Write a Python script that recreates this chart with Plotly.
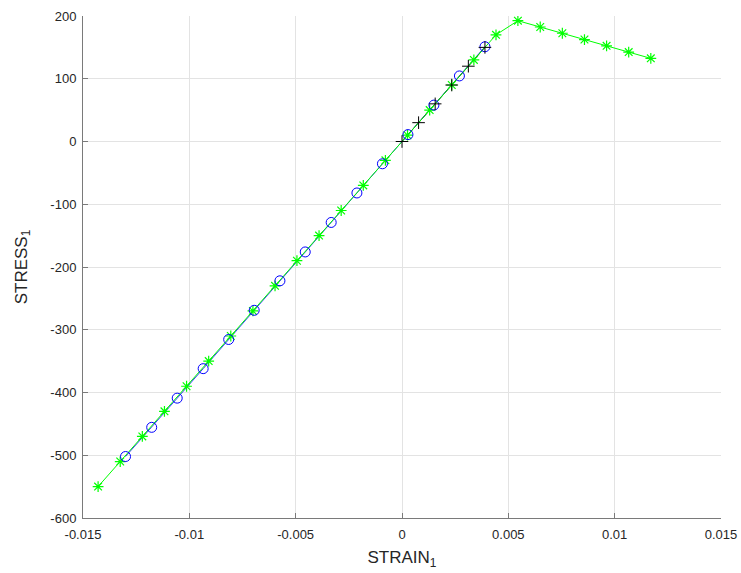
import plotly.graph_objects as go

# Green series (asterisks with line)
green_strain = [-0.01429, -0.01325, -0.01221, -0.01117, -0.01013, -0.00909, -0.00805,
                -0.00701, -0.00597, -0.00494, -0.00390, -0.00286, -0.00182, -0.00078,
                0.00026, 0.00130, 0.00234, 0.00338, 0.00442, 0.00545,
                0.00650, 0.00754, 0.00858, 0.00962, 0.01066, 0.01170]
green_stress = [-550, -510, -470, -430, -390, -350, -310, -270, -230, -190, -150, -110,
                -70, -30, 10, 50, 90, 130, 170, 192.5,
                182.5, 172.5, 162.5, 152.5, 142.5, 132.5]

# Blue series (open circles)
blue_strain = [-0.01300, -0.01177, -0.01057, -0.00935, -0.00815, -0.00695, -0.00574,
               -0.00455, -0.00333, -0.00212, -0.00092, 0.00028, 0.00150, 0.00270, 0.00390]
blue_stress = [-502, -455.5, -409, -362, -315.5, -269, -222, -176, -129, -82, -35.5,
               11, 58, 104.5, 151]

# Black series (plus markers)
black_strain = [0.0, 0.00078, 0.00156, 0.00234, 0.00312, 0.00390]
black_stress = [0, 30, 60, 90, 120, 150]

x_ticks = [-0.015, -0.01, -0.005, 0, 0.005, 0.01, 0.015]
x_tick_labels = ["-0.015", "-0.01", "-0.005", "0", "0.005", "0.01", "0.015"]
y_ticks = [-600, -500, -400, -300, -200, -100, 0, 100, 200]
y_tick_labels = ["-600", "-500", "-400", "-300", "-200", "-100", "0", "100", "200"]

FONT = "Liberation Sans, Arial, sans-serif"

fig = go.Figure()
fig.add_trace(go.Scatter(x=blue_strain, y=blue_stress, mode="lines",
                         line=dict(color="#0000ff", width=0.8), showlegend=False,
                         hoverinfo="skip"))
fig.add_trace(go.Scatter(x=black_strain, y=black_stress, mode="lines",
                         line=dict(color="#000000", width=0.8), showlegend=False,
                         hoverinfo="skip"))
fig.add_trace(go.Scatter(x=green_strain, y=green_stress, mode="lines+markers",
                         line=dict(color="#00ff00", width=1),
                         marker=dict(symbol="asterisk-open", size=9, color="#00ff00",
                                     line=dict(color="#00ff00", width=1.2)),
                         showlegend=False))
fig.add_trace(go.Scatter(x=blue_strain, y=blue_stress, mode="markers",
                         marker=dict(symbol="circle-open", size=10, color="#0000ff",
                                     line=dict(color="#0000ff", width=1)),
                         showlegend=False))
fig.add_trace(go.Scatter(x=black_strain, y=black_stress, mode="markers",
                         marker=dict(symbol="cross-thin-open", size=9, color="#000000",
                                     line=dict(color="#000000", width=1)),
                         showlegend=False))

axis_common = dict(
    showgrid=True, gridcolor="#e3e3e3", gridwidth=1,
    showline=True, linecolor="#7a7a7a", linewidth=1,
    ticks="inside", ticklen=5, tickcolor="#7a7a7a", tickwidth=1,
    zeroline=False, mirror=False, automargin=False,
    tickfont=dict(family=FONT, size=13, color="#262626"),
)

fig.update_layout(
    width=741, height=573,
    margin=dict(l=83, r=20, t=16, b=55),
    paper_bgcolor="white", plot_bgcolor="white",
    xaxis=dict(range=[-0.015, 0.015], tickvals=x_ticks, ticktext=x_tick_labels,
               ticklabelstandoff=4,
               title=dict(text="STRAIN<sub>1</sub>", standoff=10,
                          font=dict(family=FONT, size=17, color="#262626")),
               **axis_common),
    yaxis=dict(range=[-600, 200], tickvals=y_ticks, ticktext=y_tick_labels,
               ticklabelstandoff=3,
               title=dict(text="STRESS<sub>1</sub>", standoff=18,
                          font=dict(family=FONT, size=17, color="#262626")),
               **axis_common),
)

fig.write_html(
    "out.html",
    config={"displayModeBar": False},
    post_script="document.body.style.margin='0';document.body.style.overflow='hidden';",
)
